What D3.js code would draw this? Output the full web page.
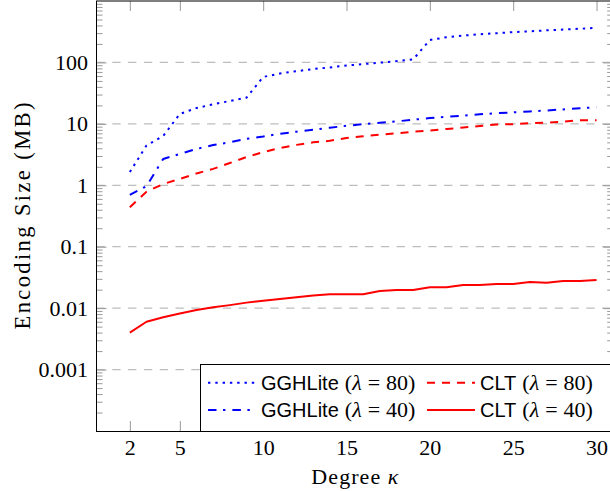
<!DOCTYPE html>
<html>
<head>
<meta charset="utf-8">
<script src="https://cdn.jsdelivr.net/npm/d3@7"></script>
<style>
  body { margin: 0; background: #fff; }
  svg { display: block; }
  .tick line { stroke: #999; }
  .axis path { display: none; }
</style>
</head>
<body>
<svg id="chart" width="610" height="491"></svg>
<script>
// degree kappa
const degrees = [2, 3, 4, 5, 6, 7, 8, 9, 10, 11, 12, 13, 14, 15, 16, 17, 18, 19, 20, 21, 22, 23, 24, 25, 26, 27, 28, 29, 30];

// encoding sizes in MB
const gghlite80 = [1.64, 4.45, 6.35, 14.5, 18.1, 20.8, 23.6, 26.7, 58, 66, 72, 78, 83, 89, 94, 99, 105, 112, 232, 257, 274, 287, 299, 311, 321, 333, 343, 353, 365];
const gghlite40 = [0.695, 0.97, 2.68, 3.24, 3.9, 4.53, 5.0, 5.7, 6.2, 6.9, 7.45, 8.0, 8.65, 9.3, 9.87, 10.4, 10.96, 11.7, 12.4, 13.0, 13.6, 14.3, 14.9, 15.4, 15.9, 16.5, 17.2, 18.0, 18.6];
const clt80 = [0.44, 0.785, 1.05, 1.27, 1.56, 1.85, 2.3, 2.88, 3.47, 4.03, 4.55, 5.0, 5.3, 5.9, 6.27, 6.7, 7.0, 7.45, 7.8, 8.25, 8.7, 9.2, 9.77, 9.85, 10.3, 10.4, 10.8, 11.5, 11.4];
const clt40 = [0.004, 0.006, 0.0071, 0.0082, 0.0093, 0.0103, 0.0112, 0.0123, 0.0132, 0.0141, 0.015, 0.016, 0.0168, 0.0168, 0.0168, 0.019, 0.0197, 0.0197, 0.0219, 0.0219, 0.0238, 0.0238, 0.0247, 0.0247, 0.0267, 0.026, 0.0277, 0.0277, 0.0287];

const xTicks = [2, 5, 10, 15, 20, 25, 30];
const yTicks = [0.001, 0.01, 0.1, 1, 10, 100];
const yTickLabels = ["0.001", "0.01", "0.1", "1", "10", "100"];

const series = [
  { name: "GGHLite", lambda: "80", values: gghlite80, color: "#0000ff", dash: "2.4,4.9" },
  { name: "CLT", lambda: "80", values: clt80, color: "#ff0000", dash: "8,7" },
  { name: "GGHLite", lambda: "40", values: gghlite40, color: "#0000ff", dash: "8.5,6.5,2.4,7" },
  { name: "CLT", lambda: "40", values: clt40, color: "#ff0000", dash: null },
];

const svg = d3.select("#chart");
const plotLeft = 96.5, plotRight = 613.2, plotTop = 1, plotBottom = 431;

const x = d3.scaleLinear().domain([0, 31]).range([plotLeft, plotRight]);
const y = d3.scaleLog().domain([1e-4, 1e3]).range([plotBottom, plotTop]);

const serif = "'Liberation Serif', 'Times New Roman', serif";
const sans = "'Liberation Sans', Arial, sans-serif";

// horizontal grid
svg.append("g")
  .selectAll("line")
  .data(yTicks)
  .enter()
  .append("line")
  .attr("x1", plotLeft)
  .attr("x2", plotRight)
  .attr("y1", (d) => y(d))
  .attr("y2", (d) => y(d))
  .attr("stroke", "#bdbdbd")
  .attr("stroke-width", 1.3)
  .attr("stroke-dasharray", "8.3,7.5");

// minor ticks for the log axis
let minor = [];
for (let e = -4; e < 3; e++) {
  for (let m = 2; m <= 9; m++) minor.push(m * Math.pow(10, e));
}

const gx = svg.append("g").attr("class", "axis")
  .attr("transform", "translate(0," + plotBottom + ")")
  .call(d3.axisBottom(x).tickValues(xTicks).tickSize(-10).tickPadding(8.5).tickFormat(d3.format("d")));
gx.selectAll("text").attr("font-family", serif).attr("font-size", 22).attr("fill", "#000");

svg.append("g").attr("class", "axis")
  .attr("transform", "translate(0," + plotTop + ")")
  .call(d3.axisTop(x).tickValues(xTicks).tickSize(-10).tickFormat(""));

const gy = svg.append("g").attr("class", "axis")
  .attr("transform", "translate(" + plotLeft + ",0)")
  .call(d3.axisLeft(y).tickValues(yTicks).tickSize(-10).tickPadding(8.5)
    .tickFormat((d, i) => yTickLabels[i]));
gy.selectAll("text").attr("font-family", serif).attr("font-size", 22).attr("fill", "#000");

svg.append("g").attr("class", "axis")
  .attr("transform", "translate(" + plotLeft + ",0)")
  .call(d3.axisLeft(y).tickValues(minor).tickSize(-6).tickFormat(""));

svg.append("g").attr("class", "axis")
  .attr("transform", "translate(" + plotRight + ",0)")
  .call(d3.axisRight(y).tickValues(yTicks).tickSize(-10).tickFormat(""));

svg.append("g").attr("class", "axis")
  .attr("transform", "translate(" + plotRight + ",0)")
  .call(d3.axisRight(y).tickValues(minor).tickSize(-6).tickFormat(""));

// series lines
const line = d3.line()
  .x((d) => x(d[0]))
  .y((d) => y(d[1]));

svg.append("g")
  .selectAll("path")
  .data(series)
  .enter()
  .append("path")
  .attr("d", (s) => line(degrees.map((k, i) => [k, s.values[i]])))
  .attr("fill", "none")
  .attr("stroke", (s) => s.color)
  .attr("stroke-width", 2)
  .attr("stroke-linejoin", "round")
  .attr("stroke-dasharray", (s) => s.dash);

// frame
svg.append("rect")
  .attr("x", plotLeft)
  .attr("y", plotTop)
  .attr("width", plotRight - plotLeft)
  .attr("height", plotBottom - plotTop + 0.5)
  .attr("fill", "none")
  .attr("stroke", "#000")
  .attr("stroke-width", 1);

// legend
const legend = svg.append("g");
legend.append("rect")
  .attr("x", 200.5)
  .attr("y", 364.5)
  .attr("width", 430)
  .attr("height", 67)
  .attr("fill", "#fff")
  .attr("stroke", "#000")
  .attr("stroke-width", 1);

const legendPos = [
  { sx: 208, tx: 261, cy: 382.7 },
  { sx: 427, tx: 480, cy: 382.7 },
  { sx: 208, tx: 261, cy: 410 },
  { sx: 427, tx: 480, cy: 410 },
];

series.forEach((s, i) => {
  const p = legendPos[i];
  legend.append("line")
    .attr("x1", p.sx)
    .attr("x2", p.sx + 48)
    .attr("y1", p.cy)
    .attr("y2", p.cy)
    .attr("stroke", s.color)
    .attr("stroke-width", 2)
    .attr("stroke-dasharray", s.dash);
  const t = legend.append("text")
    .attr("x", p.tx)
    .attr("y", p.cy + 6.8)
    .attr("fill", "#000");
  t.append("tspan").attr("font-family", sans).attr("font-size", 20).text(s.name);
  const m = (txt) => t.append("tspan").attr("font-family", serif).attr("font-size", 22).text(txt);
  m("(").attr("dx", 6);
  m("λ").attr("font-style", "italic");
  m("=").attr("dx", 6);
  m(s.lambda).attr("dx", 6);
  m(")");
});

// axis labels
svg.append("text")
  .attr("x", (plotLeft + plotRight) / 2)
  .attr("y", 484)
  .attr("text-anchor", "middle")
  .attr("font-family", serif)
  .attr("font-size", 22)
  .attr("textLength", 87)
  .attr("lengthAdjust", "spacing")
  .call((t) => {
    t.append("tspan").text("Degree ");
    t.append("tspan").attr("font-style", "italic").text("κ");
  });

svg.append("text")
  .attr("transform", "translate(30," + (plotTop + plotBottom) / 2 + ") rotate(-90)")
  .attr("text-anchor", "middle")
  .attr("font-family", serif)
  .attr("font-size", 22.5)
  .attr("textLength", 227)
  .attr("lengthAdjust", "spacing")
  .text("Encoding Size (MB)");
</script>
</body>
</html>
